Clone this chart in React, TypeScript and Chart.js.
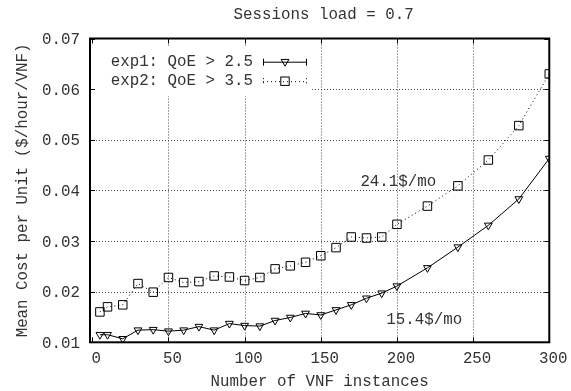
import React, { useEffect, useRef } from 'react';
import { Chart, registerables } from 'chart.js';

Chart.register(...registerables);

// ---- data ----
const xValues = [5, 10, 20, 30, 40, 50, 60, 70, 80, 90, 100, 110, 120, 130, 140, 150, 160, 170, 180, 190, 200, 220, 240, 260, 280, 300];
const exp1Values = [0.0115, 0.0115, 0.0107, 0.0124, 0.0125, 0.0122, 0.0124, 0.0131, 0.0124, 0.0137, 0.0133, 0.0132, 0.0143, 0.0149, 0.0157, 0.0154, 0.0164, 0.0174, 0.0187, 0.0197, 0.0211, 0.0247, 0.0288, 0.0331, 0.0383, 0.0463];
const exp2Values = [0.0160, 0.0170, 0.0174, 0.0216, 0.0199, 0.0228, 0.0218, 0.0220, 0.0231, 0.0229, 0.0222, 0.0228, 0.0245, 0.0251, 0.0258, 0.0271, 0.0287, 0.0308, 0.0306, 0.0308, 0.0333, 0.0369, 0.0409, 0.0460, 0.0528, 0.0630];
const xTicks = [0, 50, 100, 150, 200, 250, 300];
const yTicks = [0.01, 0.02, 0.03, 0.04, 0.05, 0.06, 0.07];
const seriesNames = ['exp1: QoE > 2.5', 'exp2: QoE > 3.5'];
const titleText = 'Sessions load = 0.7';
const xTitle = 'Number of VNF instances';
const yTitle = 'Mean Cost per Unit ($/hour/VNF)';
const annotationTexts = ['24.1$/mo', '15.4$/mo'];
const annotationX = [176, 193];
const annotationY = [0.0417, 0.0144];

const FONT_SIZE = 15.8;
const FAMILY = '"Liberation Mono", "Courier New", monospace';
const FONT = `${FONT_SIZE}px ${FAMILY}`;
const TEXT = '#333';

function tri(ctx: CanvasRenderingContext2D, x: number, y: number, r: number) {
  ctx.beginPath();
  for (let i = 0; i < 3; i++) {
    const a = Math.PI + (i * 2 * Math.PI) / 3;
    const px = x + Math.sin(a) * r;
    const py = y - Math.cos(a) * r;
    if (i === 0) ctx.moveTo(px, py); else ctx.lineTo(px, py);
  }
  ctx.closePath();
  ctx.stroke();
}

const gnuPlugin = {
  id: 'gnu',
  beforeDatasetsDraw(chart: any) {
    const { ctx, chartArea: a, scales } = chart;
    const x = scales.x, y = scales.y;
    ctx.save();
    ctx.strokeStyle = '#444';
    ctx.lineWidth = 1;
    ctx.setLineDash([1, 2]);
    for (const v of xTicks) {
      const px = Math.round(x.getPixelForValue(v)) + 0.5;
      if (px <= a.left + 3 || px >= a.right - 2) continue;
      ctx.beginPath(); ctx.moveTo(px, a.top); ctx.lineTo(px, a.bottom); ctx.stroke();
    }
    for (const v of yTicks) {
      const py = Math.round(y.getPixelForValue(v)) + 0.5;
      if (py <= a.top + 2 || py >= a.bottom - 2) continue;
      ctx.beginPath(); ctx.moveTo(a.left, py); ctx.lineTo(a.right, py); ctx.stroke();
    }
    ctx.setLineDash([]);
    // opaque key background
    ctx.fillStyle = '#fff';
    ctx.fillRect(a.left + 6, a.top + 8.5, 215, 49);
    ctx.restore();
  },
  afterDraw(chart: any) {
    const { ctx, chartArea: a, scales } = chart;
    const x = scales.x, y = scales.y;
    ctx.save();
    // inward ticks
    ctx.strokeStyle = '#000';
    ctx.lineWidth = 1;
    const tl = 5;
    for (const v of xTicks) {
      const px = Math.round(x.getPixelForValue(v)) + 0.5;
      ctx.beginPath();
      ctx.moveTo(px, a.bottom); ctx.lineTo(px, a.bottom - tl);
      ctx.moveTo(px, a.top); ctx.lineTo(px, a.top + tl);
      ctx.stroke();
    }
    for (const v of yTicks) {
      const py = Math.round(y.getPixelForValue(v)) + 0.5;
      ctx.beginPath();
      ctx.moveTo(a.left, py); ctx.lineTo(a.left + tl, py);
      ctx.moveTo(a.right, py); ctx.lineTo(a.right - tl, py);
      ctx.stroke();
    }
    // border
    ctx.lineWidth = 2;
    ctx.strokeRect(a.left, a.top, a.right - a.left, a.bottom - a.top);

    // title
    ctx.font = FONT;
    ctx.fillStyle = TEXT;
    ctx.textBaseline = 'middle';
    ctx.textAlign = 'center';
    ctx.fillText(titleText, (a.left + a.right) / 2 + 4, 15);

    // legend
    ctx.textAlign = 'left';
    const rows = [a.top + 23.2, a.top + 42.7];
    const sx0 = a.left + 173, sx1 = a.left + 217, sm = a.left + 195;
    seriesNames.forEach((name, i) => {
      const ry = rows[i];
      ctx.fillStyle = TEXT;
      ctx.fillText(name, a.left + 20.7, ry);
      ctx.strokeStyle = '#000';
      ctx.lineWidth = 1;
      ctx.setLineDash(i === 0 ? [] : [1, 3]);
      ctx.beginPath();
      ctx.moveTo(sx0, ry + 0.5); ctx.lineTo(sx1, ry + 0.5);
      ctx.moveTo(sx0 + 0.5, ry - 3); ctx.lineTo(sx0 + 0.5, ry + 4);
      ctx.moveTo(sx1 - 0.5, ry - 3); ctx.lineTo(sx1 - 0.5, ry + 4);
      ctx.stroke();
      ctx.setLineDash([]);
      if (i === 0) tri(ctx, sm, ry, 4.5);
      else ctx.strokeRect(sm - 4.2, ry - 4.2, 8.4, 8.4);
    });

    // annotations
    ctx.fillStyle = TEXT;
    ctx.textAlign = 'left';
    annotationTexts.forEach((t, i) => {
      ctx.fillText(t, x.getPixelForValue(annotationX[i]), y.getPixelForValue(annotationY[i]));
    });
    ctx.restore();
  },
};

export default function App() {
  const ref = useRef<HTMLCanvasElement>(null);
  useEffect(() => {
    document.body.style.margin = '0';
    const canvas = ref.current!;
    const chart = new Chart(canvas, {
      type: 'line',
      data: {
        datasets: [
          {
            label: seriesNames[0],
            data: xValues.map((v, i) => ({ x: v, y: exp1Values[i] })),
            borderColor: '#000',
            borderWidth: 1,
            pointStyle: 'triangle',
            pointRotation: 180,
            pointRadius: 4.5,
            pointBorderWidth: 1,
            pointBorderColor: '#000',
            pointBackgroundColor: 'rgba(0,0,0,0)',
            tension: 0,
          },
          {
            label: seriesNames[1],
            data: xValues.map((v, i) => ({ x: v, y: exp2Values[i] })),
            borderColor: '#000',
            borderWidth: 1,
            borderDash: [1, 3],
            pointStyle: 'rect',
            pointRadius: 6,
            pointBorderWidth: 1,
            pointBorderColor: '#000',
            pointBackgroundColor: 'rgba(0,0,0,0)',
            tension: 0,
          },
        ],
      },
      options: {
        animation: false,
        responsive: false,
        devicePixelRatio: 1,
        layout: { padding: { top: 38.5, right: 21, left: 0, bottom: 0 } },
        plugins: {
          legend: { display: false },
          title: { display: false },
          tooltip: { enabled: false },
        },
        scales: {
          x: {
            type: 'linear',
            position: 'bottom',
            min: -1.5,
            max: 300,
            afterBuildTicks: (s: any) => { s.ticks = xTicks.map((v) => ({ value: v })); },
            afterFit: (s: any) => { s.height = 48.7; },
            grid: { display: false, drawTicks: false },
            border: { display: false },
            ticks: {
              padding: 7.5,
              labelOffset: 4,
              color: TEXT,
              font: { family: FAMILY, size: FONT_SIZE },
              maxRotation: 0,
              autoSkip: false,
              callback: (v: any) => String(v),
            },
            title: {
              display: true,
              text: xTitle,
              color: TEXT,
              font: { family: FAMILY, size: FONT_SIZE },
              padding: { top: 0, bottom: 0 },
            },
          },
          y: {
            type: 'linear',
            min: 0.01,
            max: 0.07,
            afterBuildTicks: (s: any) => { s.ticks = yTicks.map((v) => ({ value: v })); },
            afterFit: (s: any) => { s.width = 90; },
            grid: { display: false, drawTicks: false },
            border: { display: false },
            ticks: {
              padding: 10,
              labelOffset: 1.5,
              color: TEXT,
              font: { family: FAMILY, size: FONT_SIZE },
              autoSkip: false,
              callback: (v: any) => Number(v).toFixed(2),
            },
            title: {
              display: true,
              text: yTitle,
              color: TEXT,
              font: { family: FAMILY, size: FONT_SIZE },
              padding: { top: 13.5, bottom: 0 },
            },
          },
        },
      },
      plugins: [gnuPlugin],
    } as any);
    return () => chart.destroy();
  }, []);
  return (
    <div style={{ position: 'absolute', left: 0, top: 0, width: 571, height: 391, background: '#fff' }}>
      <canvas ref={ref} width={571} height={391} style={{ width: 571, height: 391, display: 'block' }} />
    </div>
  );
}
